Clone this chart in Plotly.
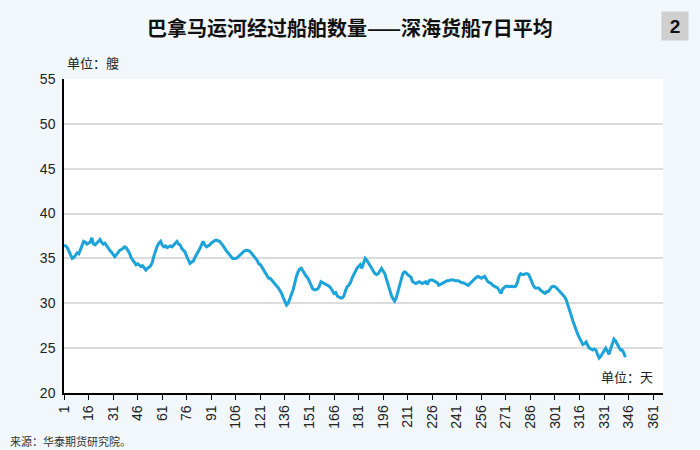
import plotly.graph_objects as go

values = [
    36.5, 36.4, 36.2, 35.8, 35.3, 35.0, 35.1, 35.4, 35.6, 35.5,
    36.0, 36.6, 36.9, 36.8, 36.6, 36.7, 36.8, 37.3, 36.6, 36.5,
    36.7, 36.9, 37.1, 36.8, 36.6, 36.7, 36.4, 36.1, 35.9, 35.7,
    35.5, 35.2, 35.4, 35.7, 35.9, 36.0, 36.1, 36.3, 36.2, 35.9,
    35.6, 35.1, 34.8, 34.5, 34.3, 34.4, 34.2, 34.1, 34.2, 33.9,
    33.7, 33.9, 34.0, 34.2, 34.6, 35.3, 36.0, 36.4, 36.7, 36.9,
    36.5, 36.3, 36.4, 36.2, 36.3, 36.4, 36.3, 36.5, 36.7, 36.9,
    36.6, 36.5, 36.1, 35.9, 35.7, 35.2, 34.8, 34.45, 34.6, 34.7,
    35.1, 35.4, 35.8, 36.1, 36.5, 36.9, 36.5, 36.3, 36.4, 36.5,
    36.7, 36.9, 37.0, 37.05, 36.95, 36.9, 36.7, 36.5, 36.2, 35.9,
    35.7, 35.4, 35.2, 35.0, 35.0, 35.0, 35.1, 35.3, 35.5, 35.7,
    35.8, 35.9, 35.9, 35.85, 35.7, 35.5, 35.3, 35.0, 34.8, 34.4,
    34.3, 34.0, 33.7, 33.3, 33.1, 32.8, 32.8, 32.6, 32.4, 32.2,
    32.0, 31.7, 31.4, 31.1, 30.6, 30.2, 29.8, 30.0, 30.4, 31.0,
    31.5, 32.3, 33.0, 33.5, 33.8, 33.9, 33.6, 33.2, 33.0, 32.8,
    32.4, 31.9, 31.6, 31.5, 31.5, 31.6, 31.9, 32.4, 32.3, 32.2,
    32.1, 32.0, 31.9, 31.7, 31.4, 31.1, 31.2, 30.8, 30.7, 30.6,
    30.6, 30.8, 31.4, 31.85, 32.0, 32.3, 32.8, 33.2, 33.7, 33.9,
    34.1, 34.3, 33.9, 34.5, 35.0, 34.8, 34.5, 34.1, 33.9, 33.6,
    33.3, 33.2, 33.3, 33.6, 33.9, 33.6, 33.3, 32.7, 32.0, 31.5,
    30.9, 30.5, 30.25, 30.6, 31.3, 32.2, 32.8, 33.3, 33.5, 33.4,
    33.2, 33.0, 32.9, 32.4, 32.3, 32.2, 32.3, 32.4, 32.3, 32.2,
    32.3, 32.4, 32.1, 32.5, 32.6, 32.6, 32.5, 32.4, 32.3, 32.0,
    32.1, 32.2, 32.3, 32.4, 32.5, 32.5, 32.6, 32.6, 32.6, 32.5,
    32.5, 32.5, 32.4, 32.3, 32.3, 32.2, 32.1, 32.0, 32.2, 32.4,
    32.6, 32.8, 32.9, 33.0, 32.9, 32.8, 32.9, 33.0, 32.7, 32.4,
    32.3, 32.2, 32.0, 31.85, 31.8, 31.7, 31.4, 31.1, 31.6, 31.8,
    31.9, 31.9, 31.85, 31.9, 31.85, 31.85, 31.9, 32.3, 33.0, 33.3,
    33.2, 33.2, 33.3, 33.3, 33.2, 32.8, 32.2, 31.9, 31.7, 31.7,
    31.7, 31.5, 31.3, 31.2, 31.1, 31.3, 31.3, 31.6, 31.85, 31.9,
    31.85, 31.7, 31.5, 31.3, 31.1, 30.9, 30.7, 30.3, 29.8, 29.2,
    28.6, 28.0, 27.4, 27.0, 26.5, 26.1, 25.8, 25.4, 25.5, 25.7,
    25.3, 25.0, 24.9, 24.8, 24.9, 24.8, 24.3, 23.9, 24.1, 24.4,
    24.8, 25.0, 24.7, 24.3, 24.9, 25.5, 26.0, 25.8, 25.5, 25.1,
    24.8, 24.8, 24.5, 24.0,
]
days = list(range(1, len(values) + 1))
tick_days = list(range(1, 362, 15))
y_ticks = [20, 25, 30, 35, 40, 45, 50, 55]

title_text = "巴拿马运河经过船舶数量——深海货船7日平均"
y_unit = "单位：艘"
x_unit = "单位：天"
source_text = "来源：华泰期货研究院。"
badge_text = "2"

FONT = "Liberation Sans, Arial, Noto Sans CJK SC, sans-serif"
CJK = "Noto Sans CJK SC, sans-serif"

fig = go.Figure()
fig.add_trace(go.Scatter(
    x=days, y=values, mode="lines",
    line=dict(color="#1ca3d9", width=3),
    showlegend=False, hoverinfo="skip",
))

fig.update_layout(
    width=700, height=450,
    margin=dict(l=64, r=37, t=79, b=57),
    paper_bgcolor="#f1f7fb",
    plot_bgcolor="#ffffff",
    font=dict(family=FONT, color="#222222"),
    xaxis=dict(
        range=[1, 367], tickvals=tick_days, ticktext=[str(d) for d in tick_days],
        tickangle=-90, tickfont=dict(size=14, color="#222222"),
        showgrid=False, zeroline=False,
        showline=True, linecolor="#000000", linewidth=1.5,
        ticks="outside", ticklen=5, tickcolor="#000000", tickwidth=1.2,
    ),
    yaxis=dict(
        range=[20, 55], tickvals=y_ticks,
        tickfont=dict(size=14, color="#222222"),
        showgrid=True, gridcolor="#dcdcdc", gridwidth=1.5,
        zeroline=False,
        showline=True, linecolor="#000000", linewidth=1.5,
        ticks="", ticklabelstandoff=4,
    ),
    annotations=[
        dict(text="<b>" + title_text + "</b>", xref="paper", yref="paper",
             x=0.4775, y=1.1656, xanchor="center", yanchor="middle",
             showarrow=False, font=dict(family=CJK, size=20, color="#111111")),
        dict(text="<b>" + badge_text + "</b>", xref="paper", yref="paper",
             x=1.020, y=1.169, xanchor="center", yanchor="middle",
             showarrow=False, bgcolor="#cfcfcf", borderpad=4,
             width=18, height=20,
             font=dict(family=FONT, size=19, color="#111111")),
        dict(text=y_unit, xref="paper", yref="paper",
             x=0.0484, y=1.054, xanchor="center", yanchor="middle",
             showarrow=False, font=dict(family=CJK, size=13, color="#222222")),
        dict(text=x_unit, xref="paper", yref="paper",
             x=0.940, y=0.051, xanchor="center", yanchor="middle",
             showarrow=False, font=dict(family=CJK, size=13, color="#222222")),
        dict(text=source_text, xref="paper", yref="paper",
             x=-0.0935, y=-0.153, xanchor="left", yanchor="middle",
             showarrow=False, font=dict(family=CJK, size=11, color="#333333")),
    ],
)

fig.write_html(
    "out.html",
    config={"displayModeBar": False},
    post_script="document.body.style.margin='0';document.body.style.overflow='hidden';",
)
